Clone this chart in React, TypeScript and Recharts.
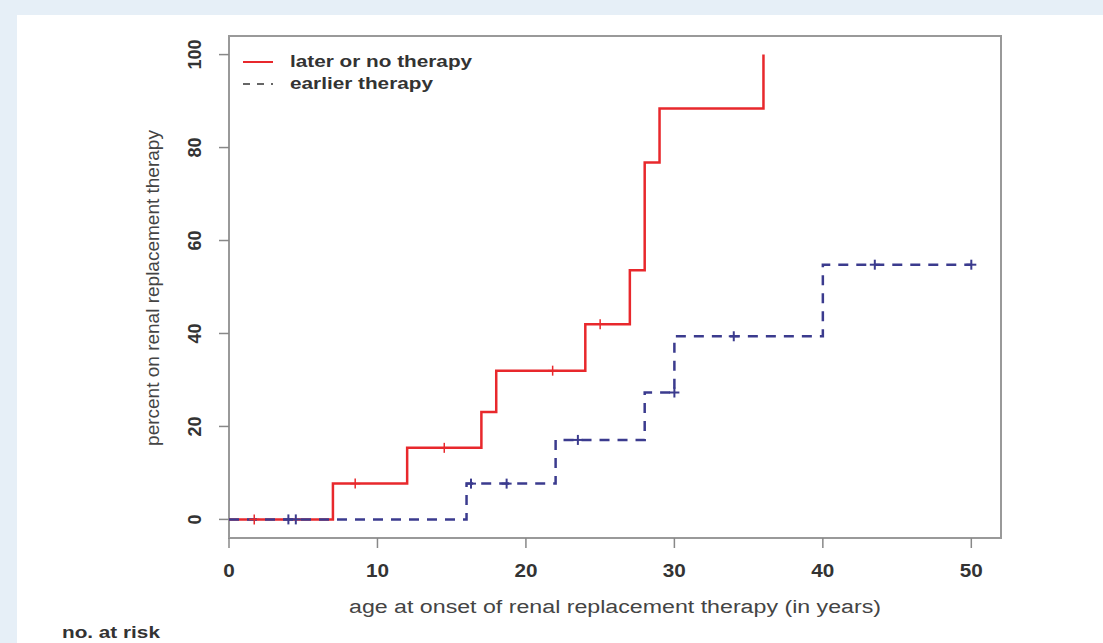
import React from "react";
import {
  ComposedChart,
  Line,
  Scatter,
  XAxis,
  YAxis,
  ReferenceArea,
} from "recharts";

// step curves (age in years, percent on RRT)
const laterAges = [0, 7, 12, 17, 18, 24, 27, 28, 29, 36];
const laterPct = [0, 7.7, 15.4, 23.1, 32.0, 42.0, 53.6, 76.8, 88.4, 100];

const earlierAges = [0, 16, 22, 28, 30, 40, 50];
const earlierPct = [0, 7.7, 17.1, 27.3, 39.4, 54.8, 54.8];

// censored observations ("+" marks)
const laterCensorAges = [1.7, 8.5, 14.5, 21.8, 25];
const laterCensorPct = [0, 7.7, 15.4, 32.0, 42.0];

const earlierCensorAges = [4.0, 4.5, 16.3, 18.7, 23.5, 30, 34, 43.5, 50];
const earlierCensorPct = [0, 0, 7.7, 7.7, 17.1, 27.3, 39.4, 54.8, 54.8];

const xTicks = [0, 10, 20, 30, 40, 50];
const yTicks = [0, 20, 40, 60, 80, 100];

const RED = "#e8282c";
const BLUE = "#3b3b8e";
const FONT = "'Liberation Sans', Arial, sans-serif";
// the source image is stretched sideways a little
const SX = 1.22;

const zip = (xs: number[], ys: number[]) => xs.map((x, i) => ({ x, y: ys[i] }));

const laterData = zip(laterAges, laterPct);
const earlierData = zip(earlierAges, earlierPct);
const laterCensor = zip(laterCensorAges, laterCensorPct);
const earlierCensor = zip(earlierCensorAges, earlierCensorPct);

const stretch = (x: number, y: number, s = SX) =>
  `translate(${x}, ${y}) scale(${s}, 1) translate(${-x}, ${-y})`;

const plus = (color: string, w: number) => (props: any) => {
  const { cx, cy } = props;
  return (
    <g stroke={color} strokeWidth={w}>
      <line x1={cx - 5} y1={cy} x2={cx + 5} y2={cy} />
      <line x1={cx} y1={cy - 5} x2={cx} y2={cy + 5} />
    </g>
  );
};

const YTick = (props: any) => {
  const { x, y, payload } = props;
  const tx = x - 22;
  return (
    <text
      x={tx}
      y={y}
      transform={`rotate(-90, ${tx}, ${y})`}
      textAnchor="middle"
      dominantBaseline="central"
      fontFamily={FONT}
      fontSize={18}
      fontWeight="bold"
      fill="#333"
    >
      {payload.value}
    </text>
  );
};

const XTick = (props: any) => {
  const { x, y, payload } = props;
  const ty = y + 21;
  return (
    <text
      x={x}
      y={ty}
      transform={stretch(x, ty, 1.15)}
      textAnchor="middle"
      dominantBaseline="central"
      fontFamily={FONT}
      fontSize={18}
      fontWeight="bold"
      fill="#333"
    >
      {payload.value}
    </text>
  );
};

const legendItems = [
  { label: "later or no therapy", color: RED, dash: undefined as string | undefined },
  { label: "earlier therapy", color: "#666", dash: "7 7" },
];

export default function App() {
  return (
    <div
      style={{
        position: "fixed",
        left: 0,
        top: 0,
        width: 1103,
        height: 643,
        background: "#e6eff7",
        overflow: "hidden",
      }}
    >
      <div
        style={{
          position: "absolute",
          left: 17,
          top: 15,
          width: 1086,
          height: 628,
          background: "#fff",
        }}
      />
      <div style={{ position: "absolute", left: 0, top: 0 }}>
        <ComposedChart
          width={1103}
          height={643}
          margin={{ top: 36, right: 102, bottom: 45, left: 169 }}
        >
          <XAxis
            type="number"
            dataKey="x"
            domain={[0, 52]}
            ticks={xTicks}
            allowDataOverflow
            axisLine={false}
            tickSize={10}
            tickLine={{ stroke: "#888", strokeWidth: 1.5 }}
            tick={<XTick />}
            height={60}
          />
          <YAxis
            type="number"
            dataKey="y"
            domain={[-4, 104]}
            ticks={yTicks}
            allowDataOverflow
            axisLine={false}
            tickSize={10}
            tickLine={{ stroke: "#888", strokeWidth: 1.5 }}
            tick={<YTick />}
            width={60}
          />
          <ReferenceArea
            x1={0}
            x2={52}
            y1={-4}
            y2={104}
            fill="none"
            stroke="#999"
            strokeWidth={2}
            ifOverflow="visible"
          />
          <Line
            data={laterData}
            dataKey="y"
            type="stepAfter"
            stroke={RED}
            strokeWidth={2.5}
            dot={false}
            isAnimationActive={false}
            name="later or no therapy"
          />
          <Line
            data={earlierData}
            dataKey="y"
            type="stepAfter"
            stroke={BLUE}
            strokeWidth={2.5}
            strokeDasharray="10 8"
            dot={false}
            isAnimationActive={false}
            name="earlier therapy"
          />
          <Scatter data={laterCensor} dataKey="y" shape={plus(RED, 1.5)} isAnimationActive={false} />
          <Scatter data={earlierCensor} dataKey="y" shape={plus(BLUE, 2)} isAnimationActive={false} />
          <text
            x={615}
            y={606}
            transform={stretch(615, 606)}
            textAnchor="middle"
            dominantBaseline="central"
            fontFamily={FONT}
            fontSize={19}
            fill="#444"
          >
            age at onset of renal replacement therapy (in years)
          </text>
          <text
            x={152}
            y={288}
            transform="rotate(-90, 152, 288)"
            textAnchor="middle"
            dominantBaseline="central"
            fontFamily={FONT}
            fontSize={19}
            fill="#444"
          >
            percent on renal replacement therapy
          </text>
          <text
            x={62}
            y={632}
            transform={stretch(62, 632)}
            dominantBaseline="central"
            fontFamily={FONT}
            fontSize={17}
            fontWeight="bold"
            fill="#333"
          >
            no. at risk
          </text>
        </ComposedChart>
      </div>
      <div
        style={{
          position: "absolute",
          left: 240,
          top: 51,
          fontFamily: FONT,
          fontSize: 17,
          fontWeight: "bold",
          color: "#333",
        }}
      >
        {legendItems.map((it) => (
          <div key={it.label} style={{ display: "flex", alignItems: "center", height: 22 }}>
            <svg width={50} height={10}>
              <line x1={3} y1={5} x2={33} y2={5} stroke={it.color} strokeWidth={2} strokeDasharray={it.dash} />
            </svg>
            <span style={{ display: "inline-block", transform: `scaleX(${SX})`, transformOrigin: "left center" }}>
              {it.label}
            </span>
          </div>
        ))}
      </div>
    </div>
  );
}
